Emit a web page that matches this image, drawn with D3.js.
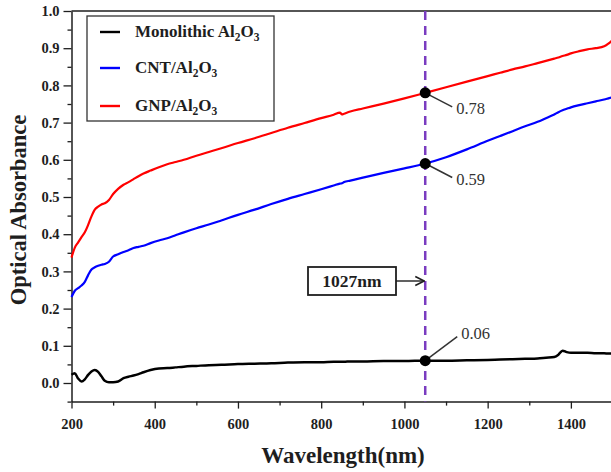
<!DOCTYPE html>
<html>
<head>
<meta charset="utf-8">
<script src="https://cdn.jsdelivr.net/npm/d3@7"></script>
<style>
  html, body { margin: 0; padding: 0; background: #fff; }
  svg { display: block; font-family: "Liberation Serif", "Times New Roman", serif; }
</style>
</head>
<body>
<svg id="chart" width="611" height="472"></svg>
<script>
// Wavelength grid (nm) shared by all three spectra
const wavelengths = [200, 208, 216, 224, 232, 240, 248, 256, 264, 272, 280, 290, 300, 312, 325, 337, 349, 361, 373, 390,
  410, 430, 450, 470, 500, 530, 560, 600, 640, 680, 720, 760, 800, 830, 845, 850, 855, 870, 900, 950,
  1000, 1050, 1100, 1150, 1200, 1230, 1260, 1290, 1320, 1340, 1360, 1370, 1380, 1390, 1400, 1420, 1440, 1460, 1480, 1490, 1500];

// Optical absorbance of monolithic Al2O3
const monolithic = [0.022, 0.026, 0.012, 0.004, 0.010, 0.022, 0.031, 0.035, 0.030, 0.018, 0.006, 0.002, 0.002, 0.004, 0.013, 0.017, 0.020, 0.024, 0.029, 0.035,
  0.039, 0.040, 0.042, 0.044, 0.046, 0.048, 0.049, 0.051, 0.052, 0.053, 0.055, 0.056, 0.056, 0.057, 0.057, 0.057, 0.057, 0.058, 0.058, 0.059,
  0.059, 0.060, 0.060, 0.061, 0.062, 0.063, 0.064, 0.065, 0.066, 0.068, 0.070, 0.076, 0.087, 0.083, 0.081, 0.081, 0.081, 0.080, 0.080, 0.079, 0.079];

// Optical absorbance of CNT/Al2O3
const cnt = [0.231, 0.248, 0.255, 0.262, 0.272, 0.290, 0.305, 0.311, 0.315, 0.318, 0.320, 0.326, 0.340, 0.346, 0.352, 0.357, 0.363, 0.366, 0.369, 0.376,
  0.383, 0.389, 0.397, 0.405, 0.416, 0.426, 0.437, 0.452, 0.466, 0.481, 0.495, 0.508, 0.521, 0.531, 0.536, 0.537, 0.540, 0.544, 0.552, 0.565,
  0.577, 0.590, 0.607, 0.628, 0.651, 0.664, 0.677, 0.690, 0.702, 0.712, 0.722, 0.728, 0.733, 0.737, 0.741, 0.747, 0.752, 0.757, 0.762, 0.765, 0.768];

// Optical absorbance of GNP/Al2O3
const gnp = [0.337, 0.364, 0.378, 0.392, 0.405, 0.425, 0.448, 0.466, 0.474, 0.480, 0.483, 0.492, 0.508, 0.522, 0.533, 0.540, 0.548, 0.556, 0.563, 0.571,
  0.580, 0.588, 0.594, 0.600, 0.611, 0.621, 0.631, 0.645, 0.658, 0.672, 0.686, 0.699, 0.712, 0.721, 0.727, 0.722, 0.724, 0.730, 0.738, 0.751,
  0.765, 0.780, 0.795, 0.810, 0.825, 0.834, 0.843, 0.851, 0.860, 0.866, 0.872, 0.875, 0.879, 0.882, 0.886, 0.892, 0.897, 0.900, 0.905, 0.912, 0.922];

// Series names (formula rendered with subscripts) and colours
const seriesNames = ["Monolithic Al", "CNT/Al", "GNP/Al"];
const seriesColors = ["#000000", "#0000ff", "#ff0000"];

// Marked wavelength and the absorbance values read there
const markWavelength = 1050;
const markLabel = "1027nm";
const markValues = [0.06, 0.59, 0.78];

// Axis ticks
const xTicks = [200, 400, 600, 800, 1000, 1200, 1400];
const xMinorTicks = [300, 500, 700, 900, 1100, 1300, 1500];
const yTicks = [0.0, 0.1, 0.2, 0.3, 0.4, 0.5, 0.6, 0.7, 0.8, 0.9, 1.0];
const yMinorTicks = [-0.05, 0.05, 0.15, 0.25, 0.35, 0.45, 0.55, 0.65, 0.75, 0.85, 0.95];

const svg = d3.select("#chart");
const plotLeft = 71.5, plotRight = 612.5, plotTop = 11, plotBottom = 401.6;
const ink = "#1e1e1e";

const x = d3.scaleLinear().domain([200, 1500]).range([plotLeft, plotRight]);
const y = d3.scaleLinear().domain([-0.05, 1.0]).range([plotBottom, plotTop]);

// Frame: top and right edges
svg.append("line").attr("x1", plotLeft).attr("x2", plotRight).attr("y1", plotTop).attr("y2", plotTop)
  .attr("stroke", ink).attr("stroke-width", 1.5);
svg.append("line").attr("x1", plotRight).attr("x2", plotRight).attr("y1", plotTop).attr("y2", plotBottom)
  .attr("stroke", ink).attr("stroke-width", 1.5);

function styleAxis(g) {
  g.selectAll("path.domain").attr("stroke", ink).attr("stroke-width", 1.5);
  g.selectAll(".tick line").attr("stroke", ink).attr("stroke-width", 1.3);
  g.selectAll(".tick text").attr("fill", ink).attr("font-size", 14.5).attr("font-weight", "bold")
    .attr("font-family", "Liberation Serif, serif");
}

// X axis
const gx = svg.append("g").attr("transform", `translate(0,${plotBottom})`)
  .call(d3.axisBottom(x).tickValues(xTicks).tickFormat(d3.format("d")).tickSize(7).tickPadding(10).tickSizeOuter(0));
styleAxis(gx);
svg.append("g").attr("transform", `translate(0,${plotBottom})`)
  .call(d3.axisBottom(x).tickValues(xMinorTicks).tickFormat("").tickSize(4).tickSizeOuter(0))
  .call(g => { g.select("path.domain").remove(); g.selectAll(".tick line").attr("stroke", ink).attr("stroke-width", 1.3); });

// Y axis
const gy = svg.append("g").attr("transform", `translate(${plotLeft},0)`)
  .call(d3.axisLeft(y).tickValues(yTicks).tickFormat(d3.format(".1f")).tickSize(8).tickPadding(4).tickSizeOuter(0));
styleAxis(gy);
svg.append("g").attr("transform", `translate(${plotLeft},0)`)
  .call(d3.axisLeft(y).tickValues(yMinorTicks).tickFormat("").tickSize(4).tickSizeOuter(0))
  .call(g => { g.select("path.domain").remove(); g.selectAll(".tick line").attr("stroke", ink).attr("stroke-width", 1.3); });

// Axis titles
svg.append("text").attr("x", 343).attr("y", 463).attr("text-anchor", "middle")
  .attr("font-size", 23).attr("font-weight", "bold").attr("fill", ink).text("Wavelength(nm)");
svg.append("text").attr("transform", "translate(26,210) rotate(-90)").attr("text-anchor", "middle")
  .attr("font-size", 22.5).attr("font-weight", "bold").attr("fill", ink).text("Optical Absorbance");

// Spectra
const series = [monolithic, cnt, gnp];
const line = d3.line().x((d, i) => x(wavelengths[i])).y(d => y(d)).curve(d3.curveMonotoneX);
const plot = svg.append("g");
series.forEach((vals, k) => {
  plot.append("path").datum(vals).attr("fill", "none")
    .attr("stroke", seriesColors[k]).attr("stroke-width", k === 0 ? 2.5 : 2.2)
    .attr("stroke-linejoin", "round").attr("d", line);
});

// Dashed marker line
svg.append("line").attr("x1", x(markWavelength)).attr("x2", x(markWavelength))
  .attr("y1", plotTop).attr("y2", plotBottom)
  .attr("stroke", "#7a3cc0").attr("stroke-width", 2.5).attr("stroke-dasharray", "9,6");

// Marker label box with arrow
const boxY = 281;
svg.append("defs").append("marker").attr("id", "arrow").attr("viewBox", "0 0 10 10")
  .attr("refX", 9).attr("refY", 5).attr("markerWidth", 8).attr("markerHeight", 8).attr("orient", "auto")
  .append("path").attr("d", "M1,1 L9,5 L1,9").attr("fill", "none").attr("stroke", ink).attr("stroke-width", 1.4);
svg.append("rect").attr("x", 308).attr("y", 267).attr("width", 88).attr("height", 28)
  .attr("fill", "#fff").attr("stroke", ink).attr("stroke-width", 1.8);
svg.append("text").attr("x", 352).attr("y", boxY + 6).attr("text-anchor", "middle")
  .attr("font-size", 17.5).attr("font-weight", "bold").attr("fill", ink).text(markLabel);
svg.append("line").attr("x1", 396).attr("x2", x(markWavelength) - 1).attr("y1", boxY).attr("y2", boxY)
  .attr("stroke", ink).attr("stroke-width", 1.4).attr("marker-end", "url(#arrow)");

// Value points and leader labels
const leaderOffsets = [[32, -24], [27, 14], [27, 14]];
markValues.forEach((v, k) => {
  const cx = x(markWavelength), cy = y(v);
  const [dx, dy] = leaderOffsets[k];
  svg.append("line").attr("x1", cx).attr("y1", cy).attr("x2", cx + dx).attr("y2", cy + dy)
    .attr("stroke", "#333").attr("stroke-width", 1.5);
  svg.append("circle").attr("cx", cx).attr("cy", cy).attr("r", 5.5).attr("fill", "#000");
  svg.append("text").attr("x", cx + dx + 4).attr("y", cy + dy + (dy < 0 ? 2 : 7))
    .attr("font-size", 16.5).attr("fill", "#333").text(d3.format(".2f")(v));
});

// Legend
const legend = svg.append("g");
legend.append("rect").attr("x", 87).attr("y", 16).attr("width", 187).attr("height", 105)
  .attr("fill", "#fff").attr("stroke", "#333").attr("stroke-width", 1.3);
const legendY = [32, 68, 106];
seriesNames.forEach((name, k) => {
  legend.append("line").attr("x1", 100).attr("x2", 120).attr("y1", legendY[k]).attr("y2", legendY[k])
    .attr("stroke", seriesColors[k]).attr("stroke-width", 2.4);
  const t = legend.append("text").attr("x", 135).attr("y", legendY[k] + 5)
    .attr("font-size", 17).attr("font-weight", "bold").attr("fill", ink);
  t.append("tspan").text(name);
  t.append("tspan").attr("font-size", 11.5).attr("dy", 4).text("2");
  t.append("tspan").attr("font-size", 17).attr("dy", -4).text("O");
  t.append("tspan").attr("font-size", 11.5).attr("dy", 4).text("3");
});
</script>
</body>
</html>
